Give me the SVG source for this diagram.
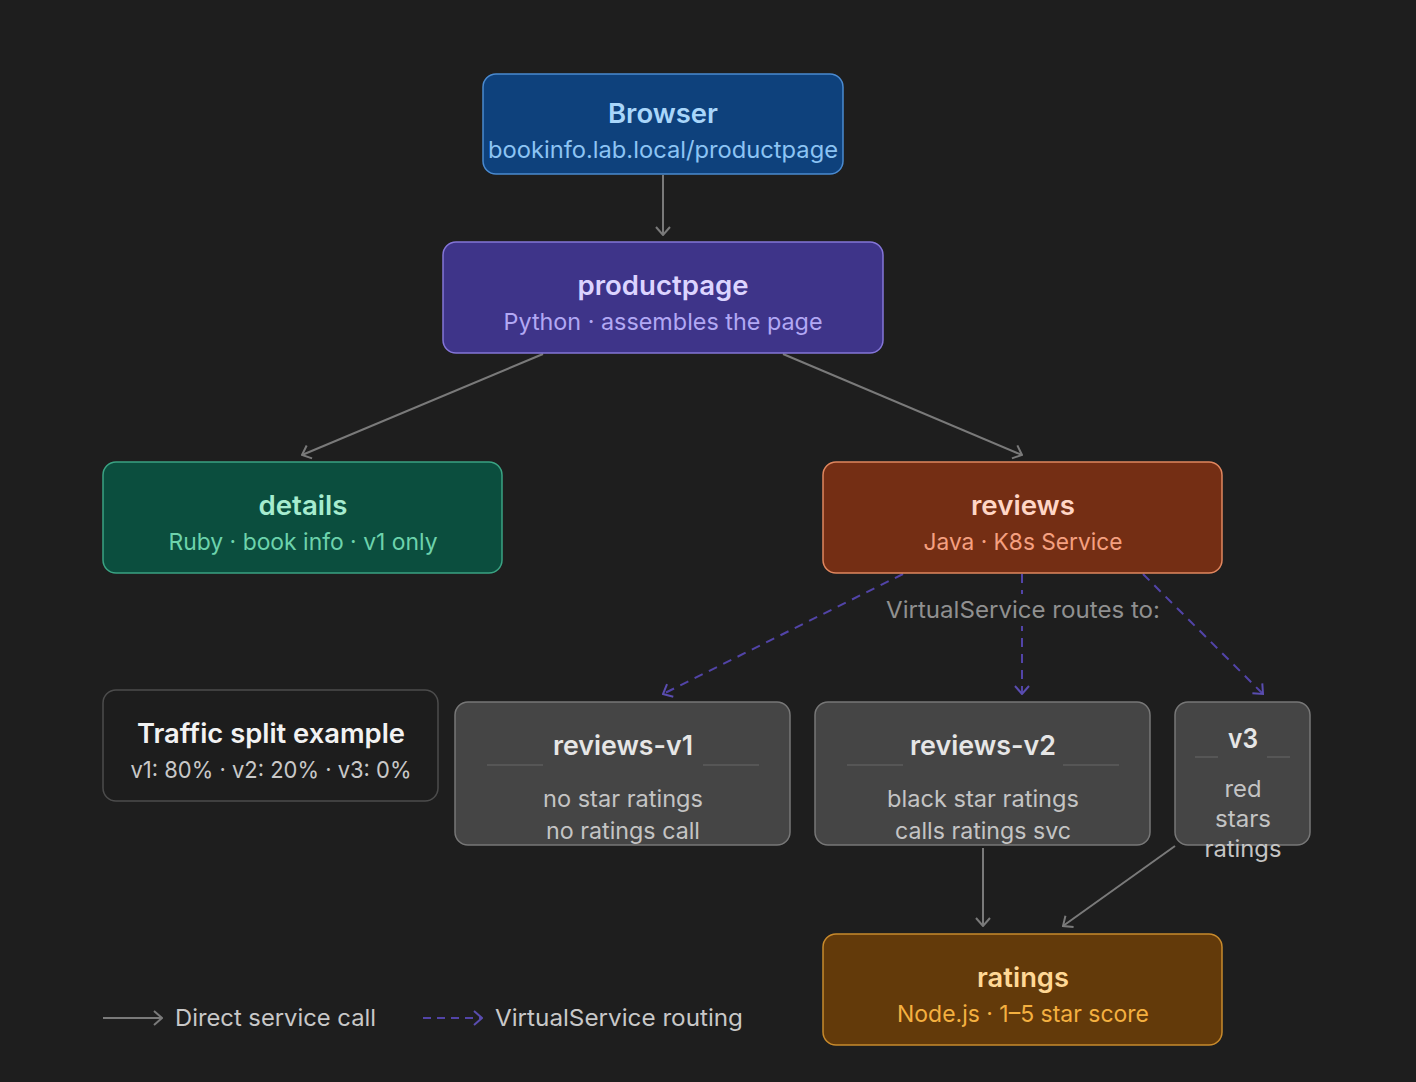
<svg xmlns="http://www.w3.org/2000/svg" width="1416" height="1082" viewBox="0 0 1416 1082">
<defs>
<marker id="ah" viewBox="0 0 10 16" refX="9" refY="8" markerWidth="10" markerHeight="16" markerUnits="userSpaceOnUse" orient="auto">
<path d="M1,1 L9,8 L1,15" fill="none" stroke="#7a7a7a" stroke-width="2"/>
</marker>
<marker id="ahd" viewBox="0 0 10 16" refX="9" refY="8" markerWidth="10" markerHeight="16" markerUnits="userSpaceOnUse" orient="auto">
<path d="M1,1 L9,8 L1,15" fill="none" stroke="#5a4db0" stroke-width="2"/>
</marker>
</defs>
<style>
text{font-family:Inter,"Noto Sans","Liberation Sans",sans-serif;text-anchor:middle}
.t{font-size:27px;font-weight:600}
.s{font-size:23.5px}
.solid{stroke:#7a7a7a;stroke-width:2;fill:none;marker-end:url(#ah)}
.dash{stroke:#5244a8;stroke-width:2;fill:none;stroke-dasharray:9 7;marker-end:url(#ahd)}
.ver{fill:#454545;stroke:#777;stroke-width:1.5}
.vt{fill:#e6e6e6}
.vs{fill:#c4c4c4}
.div{stroke:#5c5c5c;stroke-width:1.5}
</style>
<rect width="1416" height="1082" fill="#1e1e1e"/>
<g id="connectors">
<line class="solid" x1="663" y1="175" x2="663" y2="235"/>
<line class="solid" x1="543" y1="354" x2="302" y2="455"/>
<line class="solid" x1="783" y1="354" x2="1022" y2="455"/>
<line class="dash" x1="903" y1="574" x2="663" y2="694"/>
<line class="dash" x1="1022" y1="574" x2="1022" y2="694"/>
<line class="dash" x1="1143" y1="574" x2="1263" y2="694"/>
<line class="solid" x1="983" y1="848" x2="983" y2="926"/>
<line class="solid" x1="1175" y1="846" x2="1063" y2="926"/>
</g>
<g id="vs-label">
<rect x="882" y="594" width="282" height="32" fill="#1e1e1e"/>
<text x="1023" y="618" class="s" fill="#909090" textLength="274" lengthAdjust="spacingAndGlyphs">VirtualService routes to:</text>
</g>
<g id="browser">
<rect x="483" y="74" width="360" height="100" rx="13" fill="#0e417c" stroke="#4a8ad0" stroke-width="1.5"/>
<text x="663" y="123" class="t" fill="#a9d6fa" textLength="110" lengthAdjust="spacingAndGlyphs">Browser</text>
<text x="663" y="158" class="s" fill="#8cc4f4" textLength="350" lengthAdjust="spacingAndGlyphs">bookinfo.lab.local/productpage</text>
</g>
<g id="productpage">
<rect x="443" y="242" width="440" height="111" rx="13" fill="#3e3489" stroke="#8475d8" stroke-width="1.5"/>
<text x="663" y="295" class="t" fill="#dcd4ff" textLength="171" lengthAdjust="spacingAndGlyphs">productpage</text>
<text x="663" y="330" class="s" fill="#b2a8f4" textLength="319" lengthAdjust="spacingAndGlyphs">Python · assembles the page</text>
</g>
<g id="details">
<rect x="103" y="462" width="399" height="111" rx="13" fill="#0b4e3e" stroke="#3aa383" stroke-width="1.5"/>
<text x="303" y="515" class="t" fill="#a6eccf" textLength="89" lengthAdjust="spacingAndGlyphs">details</text>
<text x="303" y="550" class="s" fill="#6dd3ac" textLength="269" lengthAdjust="spacingAndGlyphs">Ruby · book info · v1 only</text>
</g>
<g id="reviews">
<rect x="823" y="462" width="399" height="111" rx="13" fill="#742e14" stroke="#e0865e" stroke-width="1.5"/>
<text x="1023" y="515" class="t" fill="#ffd6c6" textLength="104" lengthAdjust="spacingAndGlyphs">reviews</text>
<text x="1023" y="550" class="s" fill="#f5a080" textLength="199" lengthAdjust="spacingAndGlyphs">Java · K8s Service</text>
</g>
<g id="traffic-split">
<rect x="103" y="690" width="335" height="111" rx="13" fill="#1d1d1d" stroke="#4c4c4c" stroke-width="1.5"/>
<text x="271" y="743" class="t" fill="#f2f2f2" textLength="268" lengthAdjust="spacingAndGlyphs">Traffic split example</text>
<text x="271" y="778" class="s" fill="#c8c8c8" textLength="281" lengthAdjust="spacingAndGlyphs">v1: 80% · v2: 20% · v3: 0%</text>
</g>
<g id="reviews-v1">
<rect class="ver" x="455" y="702" width="335" height="143" rx="13"/>
<line class="div" x1="487" y1="765" x2="543" y2="765"/>
<line class="div" x1="703" y1="765" x2="759" y2="765"/>
<text x="623" y="755" class="t vt" textLength="140" lengthAdjust="spacingAndGlyphs">reviews-v1</text>
<text x="623" y="807" class="s vs" textLength="160" lengthAdjust="spacingAndGlyphs">no star ratings</text>
<text x="623" y="839" class="s vs" textLength="154" lengthAdjust="spacingAndGlyphs">no ratings call</text>
</g>
<g id="reviews-v2">
<rect class="ver" x="815" y="702" width="335" height="143" rx="13"/>
<line class="div" x1="847" y1="765" x2="903" y2="765"/>
<line class="div" x1="1063" y1="765" x2="1119" y2="765"/>
<text x="983" y="755" class="t vt" textLength="146" lengthAdjust="spacingAndGlyphs">reviews-v2</text>
<text x="983" y="807" class="s vs" textLength="192" lengthAdjust="spacingAndGlyphs">black star ratings</text>
<text x="983" y="839" class="s vs" textLength="176" lengthAdjust="spacingAndGlyphs">calls ratings svc</text>
</g>
<g id="v3">
<rect class="ver" x="1175" y="702" width="135" height="143" rx="13"/>
<line class="div" x1="1195" y1="757" x2="1218" y2="757"/>
<line class="div" x1="1267" y1="757" x2="1290" y2="757"/>
<text x="1243" y="748" class="t vt" textLength="30" lengthAdjust="spacingAndGlyphs">v3</text>
<text x="1243" y="797" class="s vs" textLength="37" lengthAdjust="spacingAndGlyphs">red</text>
<text x="1243" y="827" class="s vs" textLength="56" lengthAdjust="spacingAndGlyphs">stars</text>
<text x="1243" y="857" class="s vs" textLength="77" lengthAdjust="spacingAndGlyphs">ratings</text>
</g>
<g id="ratings">
<rect x="823" y="934" width="399" height="111" rx="13" fill="#633a0a" stroke="#c88a2c" stroke-width="1.5"/>
<text x="1023" y="987" class="t" fill="#ffd896" textLength="92" lengthAdjust="spacingAndGlyphs">ratings</text>
<text x="1023" y="1022" class="s" fill="#f4b040" textLength="252" lengthAdjust="spacingAndGlyphs">Node.js · 1–5 star score</text>
</g>
<g id="legend">
<line class="solid" x1="103" y1="1018" x2="162" y2="1018"/>
<text x="175" y="1026" class="s" fill="#c8c8c8" style="text-anchor:start" textLength="201" lengthAdjust="spacingAndGlyphs">Direct service call</text>
<line class="dash" x1="423" y1="1018" x2="482" y2="1018" style="stroke-dasharray:8 6"/>
<text x="495" y="1026" class="s" fill="#c8c8c8" style="text-anchor:start" textLength="248" lengthAdjust="spacingAndGlyphs">VirtualService routing</text>
</g>
</svg>
